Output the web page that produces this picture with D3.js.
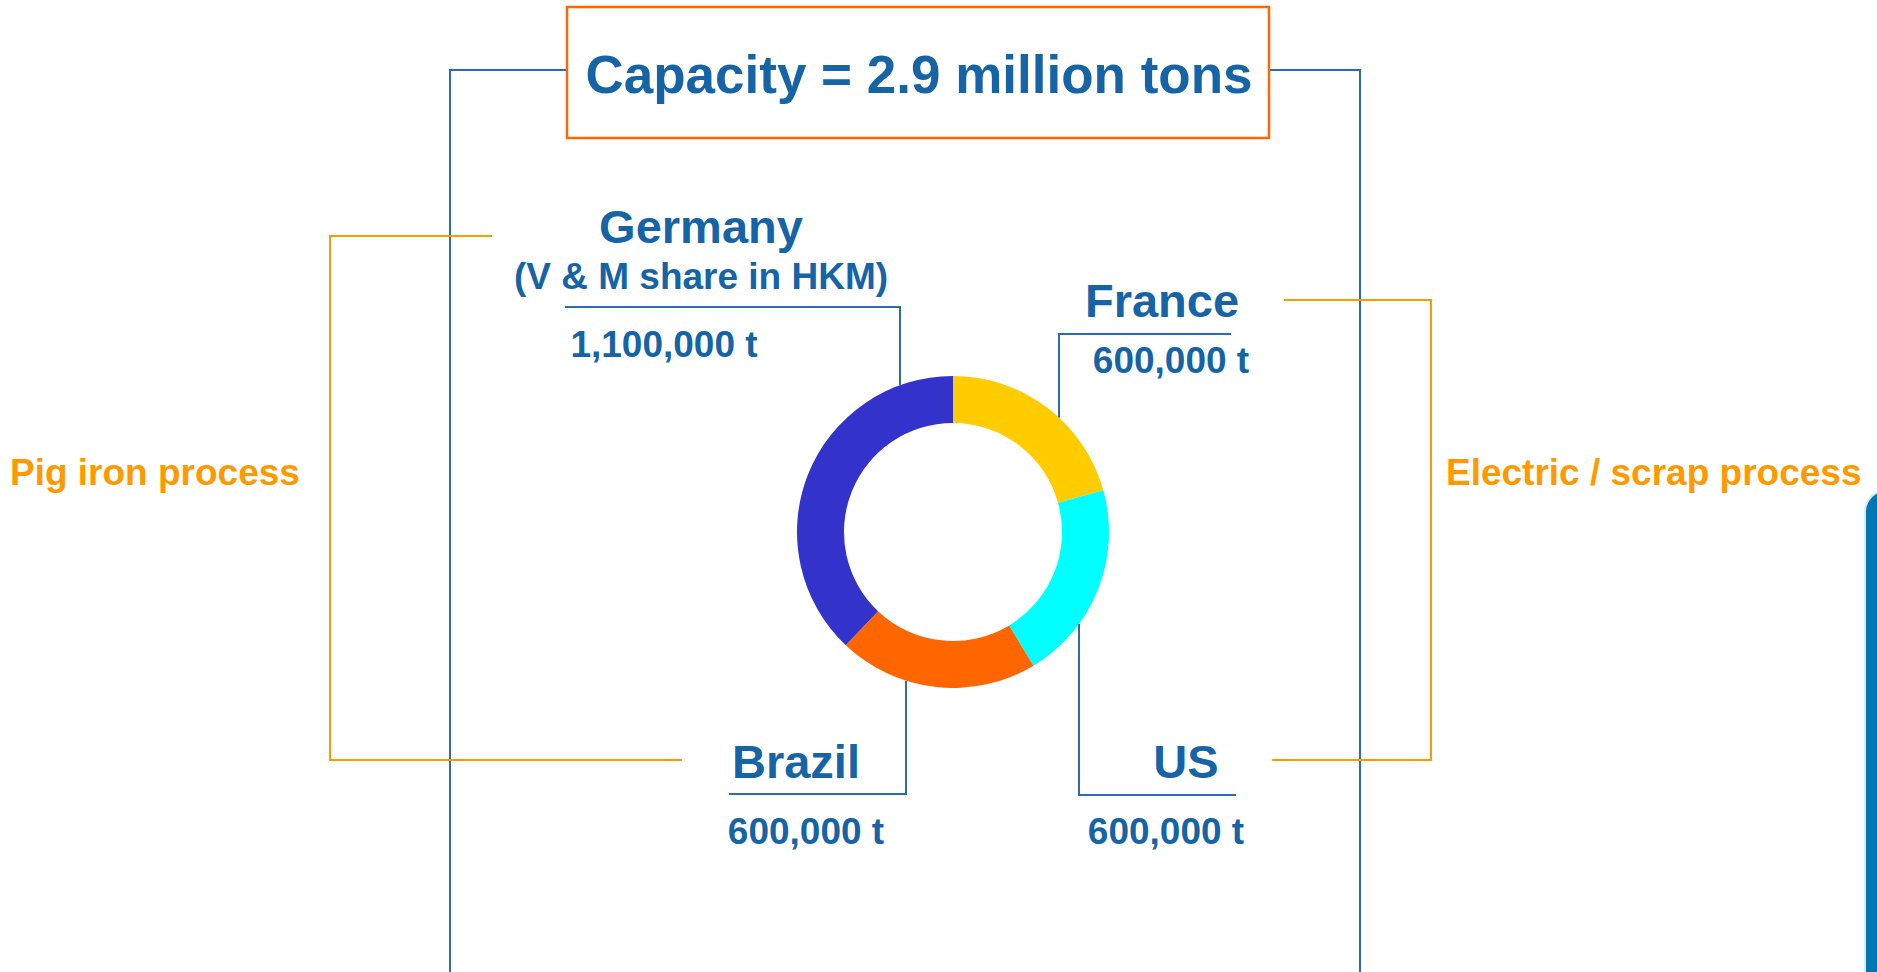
<!DOCTYPE html>
<html>
<head>
<meta charset="utf-8">
<script src="https://cdn.jsdelivr.net/npm/d3@7/dist/d3.min.js"></script>
<style>
  body { margin: 0; background: #fff; }
  text { font-family: "Liberation Sans", Arial, sans-serif; font-weight: bold; }
</style>
</head>
<body>
<svg id="chart"></svg>
<script>
// data, clockwise from 12 o'clock
var countries = ["France", "US", "Brazil", "Germany"];
var tonnes = [600000, 600000, 600000, 1100000];
var notes = ["", "", "", "(V & M share in HKM)"];
var sliceColors = ["#FFCC00", "#00FFFF", "#FF6600", "#3333CC"];
var groups = ["Pig iron process", "Electric / scrap process"];

var width = 1877, height = 972;
var textBlue = "#1663A6", lineBlue = "#2B6CB0", orange = "#FF9900";

var svg = d3.select("#chart")
  .attr("width", width)
  .attr("height", height);

// donut geometry
var cx = 953, cy = 532, outerR = 156, innerR = 109;

// where each label sits (name centre, value centre, underline, leader x)
var layout = {
  "Germany": {nx: 701, ny: 243, sy: 289, vx: 664, vy: 357, ux0: 565, ux1: 900, uy: 307, lx: 900},
  "France":  {nx: 1162, ny: 317, vx: 1171, vy: 373, ux0: 1231, ux1: 1059, uy: 334, lx: 1059},
  "Brazil":  {nx: 796, ny: 778, vx: 806, vy: 844, ux0: 729, ux1: 906, uy: 794, lx: 906},
  "US":      {nx: 1186, ny: 778, vx: 1166, vy: 844, ux0: 1236, ux1: 1079, uy: 795, lx: 1079}
};

var data = countries.map(function(c, i) {
  return {country: c, value: tonnes[i], note: notes[i], color: sliceColors[i]};
});

var line = d3.line();

// blue frame around everything
svg.append("path")
  .attr("d", line([[450, height], [450, 70], [567, 70]]))
  .attr("fill", "none").attr("stroke", lineBlue).attr("stroke-width", 2);
svg.append("path")
  .attr("d", line([[1269, 70], [1360, 70], [1360, height]]))
  .attr("fill", "none").attr("stroke", lineBlue).attr("stroke-width", 2);

// title box
var total = d3.sum(tonnes);
svg.append("rect")
  .attr("x", 567).attr("y", 7)
  .attr("width", 702).attr("height", 131)
  .attr("fill", "#fff")
  .attr("stroke", "#FF6600").attr("stroke-width", 2.5);
svg.append("text")
  .attr("x", 919).attr("y", 93)
  .attr("text-anchor", "middle")
  .attr("fill", textBlue)
  .style("font-size", "53px")
  .text("Capacity = " + (total / 1e6).toFixed(1) + " million tons");

// orange process brackets
svg.append("path")
  .attr("d", line([[492, 236], [330, 236], [330, 760], [682, 760]]))
  .attr("fill", "none").attr("stroke", orange).attr("stroke-width", 2);
svg.append("path")
  .attr("d", line([[1284, 300], [1431, 300], [1431, 760], [1272, 760]]))
  .attr("fill", "none").attr("stroke", orange).attr("stroke-width", 2);

svg.append("text")
  .attr("x", 10).attr("y", 485)
  .attr("fill", orange)
  .style("font-size", "37px")
  .text(groups[0]);
svg.append("text")
  .attr("x", 1446).attr("y", 485)
  .attr("fill", orange)
  .style("font-size", "37px")
  .text(groups[1]);

// donut
var pie = d3.pie().sort(null).value(function(d) { return d.value; });
var arc = d3.arc().innerRadius(innerR).outerRadius(outerR);

svg.append("g")
  .attr("transform", "translate(" + cx + "," + cy + ")")
  .selectAll("path")
  .data(pie(data))
  .enter().append("path")
  .attr("d", arc)
  .attr("fill", function(d) { return d.data.color; });

// leader lines: underline -> corner -> outer edge of the ring
function ringY(x, below) {
  var dx = x - cx;
  var h = Math.sqrt(outerR * outerR - dx * dx);
  return below ? cy + h : cy - h;
}

svg.selectAll(".leader")
  .data(data)
  .enter().append("path")
  .attr("class", "leader")
  .attr("d", function(d) {
    var p = layout[d.country];
    var below = p.uy > cy;
    return line([[p.ux0, p.uy], [p.ux1, p.uy], [p.lx, ringY(p.lx, below)]]);
  })
  .attr("fill", "none")
  .attr("stroke", lineBlue)
  .attr("stroke-width", 2);

var fmt = d3.format(",");

svg.selectAll(".name")
  .data(data)
  .enter().append("text")
  .attr("class", "name")
  .attr("x", function(d) { return layout[d.country].nx; })
  .attr("y", function(d) { return layout[d.country].ny; })
  .attr("text-anchor", "middle")
  .attr("fill", textBlue)
  .style("font-size", "47px")
  .text(function(d) { return d.country; });

svg.selectAll(".note")
  .data(data.filter(function(d) { return d.note; }))
  .enter().append("text")
  .attr("class", "note")
  .attr("x", function(d) { return layout[d.country].nx; })
  .attr("y", function(d) { return layout[d.country].sy; })
  .attr("text-anchor", "middle")
  .attr("fill", textBlue)
  .style("font-size", "37px")
  .text(function(d) { return d.note; });

svg.selectAll(".value")
  .data(data)
  .enter().append("text")
  .attr("class", "value")
  .attr("x", function(d) { return layout[d.country].vx; })
  .attr("y", function(d) { return layout[d.country].vy; })
  .attr("text-anchor", "middle")
  .attr("fill", textBlue)
  .style("font-size", "37px")
  .text(function(d) { return fmt(d.value) + " t"; });

// edge of the next slide panel peeking in at the right
svg.append("rect")
  .attr("x", 1865).attr("y", 490)
  .attr("width", 60).attr("height", 600)
  .attr("rx", 22)
  .attr("fill", "#0077B3")
  .attr("stroke", "#d8ecf5").attr("stroke-width", 2);
</script>
</body>
</html>
